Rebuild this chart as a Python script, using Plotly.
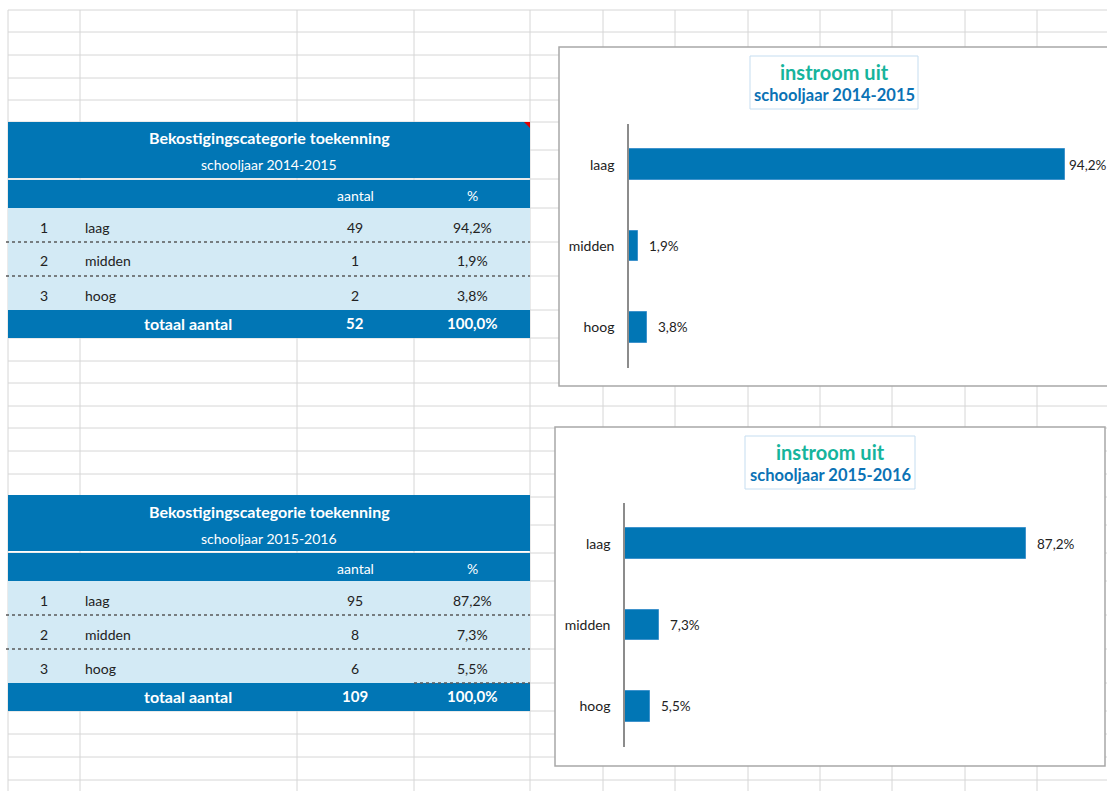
import plotly.graph_objects as go

W, H = 1107, 791

# gegevens
categorieen = ['laag', 'midden', 'hoog']
nummers = ['1', '2', '3']
jaar_1 = 'schooljaar 2014-2015'
aantal_1 = [49, 1, 2]
procent_1 = [94.2, 1.9, 3.8]
totaal_1 = 52
jaar_2 = 'schooljaar 2015-2016'
aantal_2 = [95, 8, 6]
procent_2 = [87.2, 7.3, 5.5]
totaal_2 = 109

FONT = 'Lato'
BLAUW = '#0176B5'
LICHTBLAUW = '#D3EAF5'
GRID = '#D6D6D6'


def px(x):
    return x / W


def py(y):
    return 1 - y / H


def pct(v):
    return f'{v:.1f}'.replace('.', ',') + '%'


shapes = []
annotations = []


def rect(x0, y0, x1, y1, fill, line=None, lw=0):
    shapes.append(dict(type='rect', xref='paper', yref='paper',
                       x0=px(x0), x1=px(x1), y0=py(y1), y1=py(y0),
                       fillcolor=fill, line=dict(color=line or fill, width=lw),
                       layer='below'))


def hline(y, x0, x1, color, width=1, dash='solid'):
    shapes.append(dict(type='line', xref='paper', yref='paper',
                       x0=px(x0), x1=px(x1), y0=py(y), y1=py(y),
                       line=dict(color=color, width=width, dash=dash), layer='below'))


def vline(x, y0, y1, color, width=1):
    shapes.append(dict(type='line', xref='paper', yref='paper',
                       x0=px(x), x1=px(x), y0=py(y0), y1=py(y1),
                       line=dict(color=color, width=width), layer='below'))


def tekst(x, y, t, size=14, color='#222222', anchor='center'):
    annotations.append(dict(xref='paper', yref='paper', x=px(x), y=py(y), text=t,
                            showarrow=False, xanchor=anchor, yanchor='middle',
                            font=dict(family=FONT, size=size, color=color)))


# rasterlijnen van het werkblad
kolommen = [8, 80, 297, 414, 530, 603, 675, 748, 820, 892, 965, 1037]
rijen = [10, 32, 55, 78, 100, 122, 150, 179, 208, 242, 276, 310, 338, 361, 383,
         406, 428, 451, 474, 497, 525, 553, 581, 615, 649, 683, 711, 734, 757, 780]
for k in kolommen:
    vline(k, 10, H, GRID)
for r in rijen:
    hline(r, 8, W, GRID)


def tabel(t, jaar, aantal, procent, totaal, extra_stip=False):
    rect(8, t, 530, t + 56, BLAUW)
    rect(8, t + 58, 530, t + 86, BLAUW)
    rect(8, t + 86, 530, t + 188, LICHTBLAUW)
    rect(8, t + 188, 530, t + 216, BLAUW)
    for d in (120, 154):
        hline(t + d, 6, 530, '#5A5A5A', 1.5, 'dot')
    if extra_stip:
        hline(t + 188, 414, 530, '#5A5A5A', 1.5, 'dot')
    tekst(269, t + 16, '<b>Bekostigingscategorie toekenning</b>', 16, 'white')
    tekst(269, t + 43, jaar, 14, 'white')
    tekst(355, t + 73, 'aantal', 14, 'white')
    tekst(472, t + 73, '%', 14, 'white')
    for i, (n, c, a, p) in enumerate(zip(nummers, categorieen, aantal, procent)):
        yc = t + 105 + 34 * i
        tekst(44, yc, n)
        tekst(83, yc, c, anchor='left')
        tekst(355, yc, str(a))
        tekst(472, yc, pct(p))
    tekst(188, t + 201, '<b>totaal aantal</b>', 16, 'white')
    tekst(355, t + 201, f'<b>{totaal}</b>', 15, 'white')
    tekst(472, t + 201, f'<b>{pct(100)}</b>', 15, 'white')


tabel(122, jaar_1, aantal_1, procent_1, totaal_1)
tabel(495, jaar_2, aantal_2, procent_2, totaal_2, extra_stip=True)

# rood opmerkingdriehoekje
shapes.append(dict(type='path', xref='paper', yref='paper',
                   path=f'M {px(524)},{py(122)} L {px(530)},{py(122)} L {px(530)},{py(128)} Z',
                   fillcolor='#E00000', line=dict(width=0), layer='below'))

# grafiekvlakken
rect(559, 47, 1130, 386, 'white', '#A8A8A8', 1.5)
rect(555, 427, 1105, 766, 'white', '#A8A8A8', 1.5)


def titel(x0, y0, x1, y1, jaar):
    rect(x0, y0, x1, y1, 'white', '#C5DDF0', 1)
    xc = (x0 + x1) / 2
    tekst(xc, y0 + 16, '<b>instroom uit</b>', 20, '#16B49C')
    tekst(xc, y0 + 39, f'<b>{jaar}</b>', 16.5, '#0B72B5')


titel(750, 56, 918, 109, jaar_1)
titel(745, 436, 915, 489, jaar_2)

fig = go.Figure()
fig.add_trace(go.Bar(x=procent_1, y=categorieen, orientation='h', width=0.38,
                     marker=dict(color=BLAUW, line=dict(color='#3F93CC', width=1)),
                     xaxis='x', yaxis='y', hoverinfo='skip'))
fig.add_trace(go.Bar(x=procent_2, y=categorieen, orientation='h', width=0.38,
                     marker=dict(color=BLAUW, line=dict(color='#3F93CC', width=1)),
                     xaxis='x2', yaxis='y2', hoverinfo='skip'))

# gegevenslabels
for xa, ya, waarden in (('x', 'y', procent_1), ('x2', 'y2', procent_2)):
    for c, v in zip(categorieen, waarden):
        annotations.append(dict(xref=xa, yref=ya, x=v, y=c, text=pct(v),
                                showarrow=False, xanchor='left', yanchor='middle',
                                xshift=2 if v > 90 else 9,
                                font=dict(family=FONT, size=13.5, color='#222222')))

as_y = dict(type='category', range=[2.5, -0.5], showline=True, linecolor='#8C8C8C',
            linewidth=1.5, ticks='', showgrid=False, zeroline=False,
            ticklabelstandoff=10, tickfont=dict(family=FONT, size=14, color='#222222'))
as_x = dict(visible=False, range=[0, 100], showgrid=False, zeroline=False)

fig.update_layout(
    width=W, height=H,
    margin=dict(l=0, r=0, t=0, b=0),
    paper_bgcolor='white', plot_bgcolor='rgba(0,0,0,0)',
    showlegend=False, bargap=0,
    xaxis=dict(as_x, domain=[px(629), px(1092)], anchor='y'),
    yaxis=dict(as_y, domain=[py(368), py(124)], anchor='x'),
    xaxis2=dict(as_x, domain=[px(625), px(1085)], anchor='y2'),
    yaxis2=dict(as_y, domain=[py(747), py(503)], anchor='x2'),
    shapes=shapes,
    annotations=annotations,
)

fig.write_html('out.html', config={'displayModeBar': False},
               post_script="document.body.style.margin='0';")
